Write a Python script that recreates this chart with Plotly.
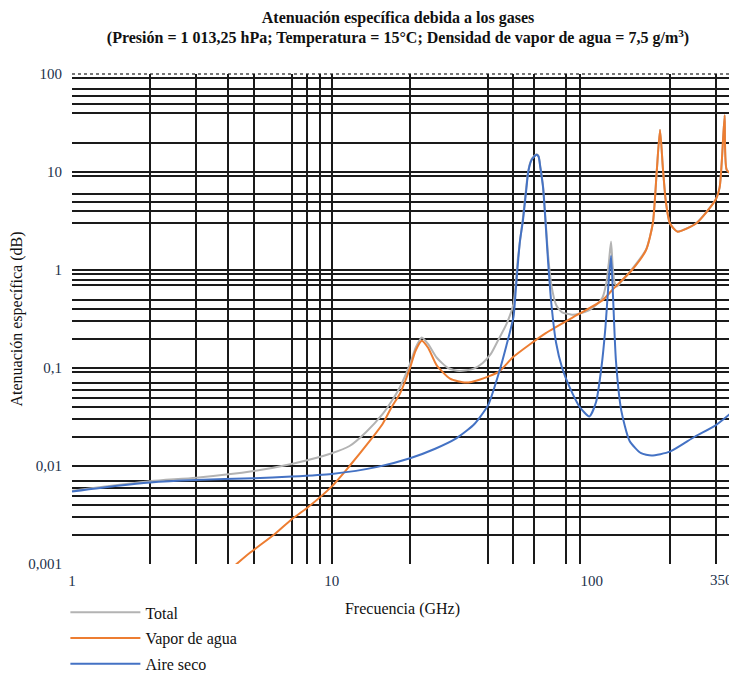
import math
import plotly.graph_objects as go

# ---------------- data ----------------
freq_total = [1, 2, 3, 5, 7, 10, 11.7, 13.5, 15.7, 17, 18.3, 20, 21, 22.2, 23.5, 25.3, 28, 31,
              35, 38, 41, 44, 47, 50, 52, 54.4, 57, 58.5, 60, 61.5, 62.5, 63.5, 65, 66.5, 68,
              70, 73, 77, 84, 90, 98, 105, 110, 114, 116.5, 118.75, 120.5, 122.5, 125, 130,
              143, 162, 172, 178, 183.3, 188, 193, 200, 214, 253, 300, 311, 317, 325, 331, 350]
total = [0.0056, 0.0070, 0.0076, 0.0089, 0.0105, 0.0135, 0.0160, 0.022, 0.034, 0.046, 0.064,
         0.11, 0.16, 0.205, 0.175, 0.128, 0.10, 0.093, 0.098, 0.112, 0.14, 0.20, 0.28, 0.45,
         1.3, 3.4, 10.2, 13.2, 14.5, 15.2, 14.5, 11.2, 7.2, 3.2, 1.4, 0.7, 0.44, 0.37, 0.35,
         0.36, 0.39, 0.45, 0.52, 0.75, 1.2, 1.95, 1.1, 0.75, 0.68, 0.76, 1.02, 1.62, 3.0,
         10.0, 27.0, 11.0, 5.0, 3.0, 2.47, 3.02, 5.23, 7.0, 13.0, 38.0, 10.5, 9.35]

freq_vapor = [4.0, 4.84, 6, 6.94, 8, 10, 11.7, 14, 15.7, 17, 18.3, 20, 21, 22.2, 23.5, 25.3,
              28.5, 32.8, 37, 44, 50, 66.6, 90, 110, 120, 143, 162, 172, 178, 183.3, 188, 193,
              200, 214, 253, 300, 311, 317, 325, 331, 350]
vapor = [0.00085, 0.0013, 0.0020, 0.0028, 0.0037, 0.0062, 0.010, 0.018, 0.027, 0.040, 0.055,
         0.10, 0.15, 0.19, 0.16, 0.107, 0.078, 0.071, 0.076, 0.092, 0.13, 0.227, 0.36, 0.49,
         0.625, 1.0, 1.6, 3.0, 10.0, 27.0, 11.0, 5.0, 3.0, 2.46, 3.0, 5.2, 7.0, 13.0, 38.0,
         10.5, 9.3]

freq_dry = [1, 1.5, 2, 3, 5, 7, 10, 15, 20, 25, 30, 35, 37, 40, 44, 47, 50, 51, 52, 53, 54.4,
            56, 57, 58.5, 60, 61.5, 62.5, 63.5, 65, 66.5, 68, 70, 73, 77, 82, 90, 98, 104, 109,
            113, 116, 118.75, 121, 124, 130, 140, 155, 170, 200, 250, 300, 350]
dry = [0.0055, 0.0063, 0.0068, 0.0072, 0.0075, 0.0078, 0.0083, 0.0098, 0.012, 0.015, 0.019,
       0.026, 0.031, 0.042, 0.09, 0.17, 0.33, 0.6, 1.15, 2.0, 3.2, 6.5, 10.0, 13.0, 14.3, 15.0,
       14.3, 11.0, 7.0, 3.0, 1.2, 0.45, 0.18, 0.10, 0.065, 0.040, 0.032, 0.045, 0.10, 0.26,
       0.7, 1.4, 0.5, 0.12, 0.037, 0.018, 0.0135, 0.0128, 0.014, 0.020, 0.026, 0.036]

x_max = 350
x_tickvals = [1, 10, 100]
x_ticktext = ["1", "10", "100"]
x_end_label = "350"
x_gridvals = [2, 3, 4, 5, 7, 8, 9, 10, 20, 40, 50, 60, 80, 90, 200, 300]

y_tickvals = [0.001, 0.01, 0.1, 1, 10, 100]
y_ticktext = ["0,001", "0,01", "0,1", "1", "10", "100"]
y_gridvals = [0.002, 0.003, 0.004, 0.005, 0.006, 0.007, 0.01,
              0.02, 0.03, 0.04, 0.05, 0.06, 0.07, 0.09, 0.1,
              0.2, 0.3, 0.4, 0.5, 0.7, 0.8, 0.9, 1,
              3, 4, 5, 6, 9, 10,
              20, 40, 50, 60, 70, 90]

FONT = "Liberation Serif, Times New Roman, serif"
TICKCOL = "#22304a"

fig = go.Figure()
fig.add_trace(go.Scatter(x=freq_total, y=total, mode="lines", name="Total",
                         legendgroup="a", line=dict(color="#b3b3b3", width=2, shape="spline",
                                                    smoothing=0.6)))
fig.add_trace(go.Scatter(x=freq_vapor, y=vapor, mode="lines", name="Vapor de agua",
                         legendgroup="b", line=dict(color="#ed7d31", width=2, shape="spline",
                                                    smoothing=0.6)))
fig.add_trace(go.Scatter(x=freq_dry, y=dry, mode="lines", name="Aire seco",
                         legendgroup="c", line=dict(color="#4472c4", width=2, shape="spline",
                                                    smoothing=0.6)))

# The page body adds an 8 px margin, so the figure is sized to fit inside it.
fig.update_layout(
    width=729, height=665,
    margin=dict(l=64, r=4, t=66, b=109, autoexpand=False),
    paper_bgcolor="white", plot_bgcolor="white",
    font=dict(family=FONT, size=15, color="#111111"),
    title=dict(
        text="<b>Atenuación específica debida a los gases</b><br>"
             "<b>(Presión = 1 013,25 hPa; Temperatura = 15°C; Densidad de vapor de agua = 7,5 g/m<sup>3</sup>)</b>",
        x=0.535, xanchor="center", y=0.978, yanchor="top",
        font=dict(family=FONT, size=16, color="#111111"),
    ),
    showlegend=True,
    legend=dict(x=-0.01, xanchor="left", y=-0.064, yanchor="top",
                font=dict(family=FONT, size=16, color="#111111"),
                tracegroupgap=2, bgcolor="rgba(0,0,0,0)", itemwidth=70),
    xaxis=dict(
        type="log", range=[0, math.log10(x_max)], automargin=False,
        tickmode="array", tickvals=x_tickvals, ticktext=x_ticktext,
        showgrid=False, zeroline=False, showline=False, ticks="",
        ticklabelstandoff=6,
        tickfont=dict(family=FONT, size=15, color=TICKCOL),
        title=dict(text="Frecuencia (GHz)", font=dict(family=FONT, size=16, color="#111111"),
                   standoff=14),
        minor=dict(tickmode="array", tickvals=x_gridvals, showgrid=True,
                   gridcolor="#1a1a1a", gridwidth=1.6, ticks=""),
    ),
    yaxis=dict(
        type="log", range=[-3, 2], automargin=False,
        tickmode="array", tickvals=y_tickvals, ticktext=y_ticktext,
        showgrid=False, zeroline=False, showline=False, ticks="",
        ticklabelstandoff=9, ticklabeloverflow="allow",
        tickfont=dict(family=FONT, size=15, color=TICKCOL),
        title=dict(text="Atenuación específica (dB)", font=dict(family=FONT, size=16, color="#111111"),
                   standoff=2),
        minor=dict(tickmode="array", tickvals=y_gridvals, showgrid=True,
                   gridcolor="#1a1a1a", gridwidth=1.6, ticks=""),
    ),
    annotations=[dict(x=math.log10(x_max), xref="x", y=0, yref="paper",
                      text=x_end_label, showarrow=False, xanchor="right", yanchor="top",
                      xshift=2, yshift=-6,
                      font=dict(family=FONT, size=15, color=TICKCOL))],
    shapes=[dict(type="line", xref="paper", yref="paper", x0=0, x1=1, y0=1, y1=1,
                 line=dict(color="#777777", width=2, dash="dot"), layer="below")],
)

fig.write_html("out.html")
